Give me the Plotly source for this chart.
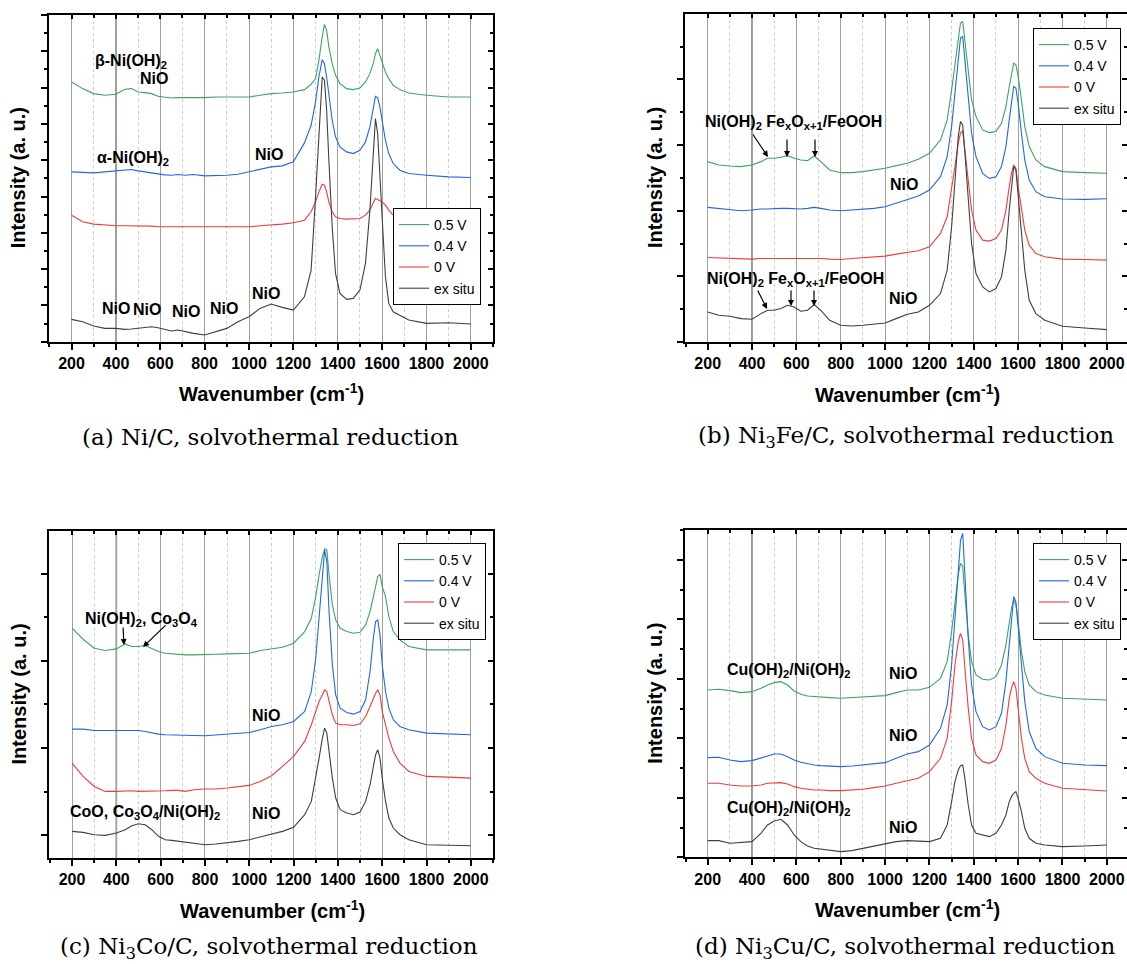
import plotly.graph_objects as go

# ---------------- data (intensity in arbitrary units) ----------------
WAVENUMBER = [200, 250, 300, 350, 400, 440, 470, 500, 530, 560, 590, 620, 650, 680, 710,
              750, 800, 850, 900, 950, 1000, 1050, 1100, 1150, 1200,
              1250, 1280, 1300, 1315, 1330, 1340, 1350, 1360, 1375, 1390,
              1410, 1440, 1470, 1500, 1525, 1545, 1560, 1570, 1580, 1590,
              1600, 1615, 1630, 1650, 1680, 1720, 1800, 1900, 2000]

SERIES_NAMES = ["0.5 V", "0.4 V", "0 V", "ex situ"]

# (a) Ni/C
A_05V = [780, 760, 745, 740, 743, 758, 760, 750, 748, 745, 737, 735, 732, 733, 733,
         732, 733, 735, 735, 733, 735, 740, 745, 747, 750,
         757, 773, 790, 845, 915, 953, 935, 885, 835, 800,
         775, 760, 757, 762, 780, 805, 835, 865, 880, 860,
         835, 810, 790, 770, 757, 747, 740, 735, 735]
A_04V = [510, 508, 507, 510, 512, 515, 517, 513, 510, 506, 503, 501, 500, 502, 500,
         502, 498, 498, 500, 503, 510, 517, 525, 528, 540,
         597, 650, 720, 795, 847, 835, 795, 735, 665, 615,
         585, 570, 565, 575, 600, 645, 705, 737, 733, 705,
         665, 605, 565, 535, 515, 505, 500, 495, 493]
A_0V = [380, 360, 353, 350, 348, 348, 348, 348, 347, 347, 345, 345, 345, 345, 345,
        345, 345, 347, 347, 345, 345, 348, 350, 353, 357,
        365, 390, 420, 450, 473, 470, 450, 420, 390, 375,
        370, 368, 368, 370, 380, 395, 417, 430, 427, 423,
        420, 410, 395, 380, 367, 360, 357, 355, 353]
A_EX = [67, 60, 47, 40, 40, 37, 38, 40, 43, 45, 42, 38, 32, 35, 30,
        25, 20, 30, 40, 60, 75, 100, 113, 103, 95,
        135, 215, 435, 615, 795, 785, 695, 545, 345, 205,
        145, 127, 130, 155, 235, 395, 575, 670, 625, 515,
        375, 195, 115, 90, 80, 65, 55, 57, 53]

# (b) Ni3Fe/C
B_05V = [540, 530, 527, 525, 530, 540, 550, 550, 553, 558, 550, 545, 543, 557, 540,
         515, 507, 507, 510, 515, 520, 528, 535, 547, 565,
         605, 665, 755, 835, 915, 955, 960, 905, 815, 725,
         675, 635, 627, 630, 655, 705, 765, 805, 835, 830,
         795, 725, 645, 585, 545, 525, 510, 507, 505]
B_04V = [403, 400, 397, 393, 395, 398, 398, 400, 400, 400, 398, 398, 400, 403, 400,
         395, 393, 395, 397, 400, 405, 415, 427, 437, 455,
         495, 555, 645, 745, 855, 910, 915, 845, 735, 625,
         555, 505, 490, 495, 525, 585, 665, 725, 765, 760,
         715, 625, 545, 485, 450, 435, 428, 427, 429]
B_0V = [253, 252, 250, 248, 248, 250, 250, 250, 250, 250, 250, 250, 250, 252, 250,
        248, 247, 250, 252, 255, 257, 263, 267, 273, 285,
        325, 375, 455, 525, 595, 625, 633, 575, 475, 395,
        335, 305, 302, 310, 335, 395, 465, 505, 530, 520,
        465, 395, 335, 290, 265, 255, 248, 247, 245]
B_EX = [90, 80, 77, 70, 68, 85, 95, 95, 100, 110, 105, 92, 95, 112, 95,
        65, 50, 48, 50, 53, 57, 70, 83, 90, 110,
        145, 215, 345, 495, 615, 660, 650, 565, 425, 295,
        205, 165, 150, 160, 195, 275, 395, 465, 525, 515,
        435, 315, 215, 125, 85, 65, 47, 42, 37]

# (c) Ni3Co/C
C_05V = [690, 657, 630, 623, 628, 643, 635, 635, 638, 628, 620, 615, 613, 612, 610,
         610, 610, 612, 613, 615, 615, 623, 628, 633, 645,
         680, 720, 785, 850, 905, 928, 925, 850, 760, 715,
         690, 680, 675, 678, 700, 740, 785, 820, 845, 852,
         815, 785, 725, 680, 655, 635, 625, 625, 625]
C_04V = [387, 387, 383, 382, 383, 383, 383, 383, 380, 375, 372, 370, 370, 368, 368,
         368, 367, 370, 372, 375, 377, 385, 395, 400, 410,
         440, 500, 600, 730, 860, 925, 890, 740, 580, 490,
         450, 437, 432, 440, 475, 560, 660, 710, 715, 670,
         580, 500, 450, 415, 395, 385, 375, 372, 370]
C_0V = [285, 245, 215, 200, 200, 202, 202, 200, 200, 202, 202, 202, 203, 203, 200,
        205, 207, 207, 210, 213, 218, 230, 247, 275, 305,
        350, 400, 440, 470, 490, 505, 500, 470, 430, 405,
        400, 400, 398, 403, 425, 455, 480, 495, 505, 490,
        440, 400, 360, 320, 285, 260, 245, 243, 240]
C_EX = [80, 77, 70, 68, 75, 85, 97, 103, 100, 85, 65, 55, 53, 50, 47,
        45, 40, 42, 45, 50, 55, 63, 73, 80, 92,
        130, 170, 240, 300, 360, 390, 375, 320, 240, 180,
        145, 135, 130, 138, 170, 220, 280, 310, 325, 300,
        240, 170, 120, 90, 70, 55, 40, 38, 37]

# (d) Ni3Cu/C
D_05V = [502, 504, 500, 494, 497, 507, 517, 524, 527, 517, 499, 489, 484, 482, 480,
         479, 477, 479, 480, 482, 485, 494, 502, 502, 510,
         537, 587, 677, 767, 847, 882, 872, 787, 667, 587,
         547, 534, 532, 542, 577, 637, 707, 747, 772, 757,
         707, 617, 557, 517, 497, 487, 477, 475, 472]
D_04V = [299, 300, 292, 287, 290, 297, 304, 310, 310, 302, 292, 285, 280, 277, 275,
         274, 272, 274, 277, 280, 284, 297, 310, 317, 337,
         387, 457, 577, 727, 877, 950, 972, 847, 657, 517,
         437, 392, 382, 392, 432, 527, 647, 727, 782, 767,
         697, 577, 467, 377, 327, 302, 282, 277, 275]
D_0V = [222, 222, 217, 214, 214, 217, 222, 224, 224, 220, 212, 207, 204, 202, 202,
        200, 200, 202, 204, 209, 214, 222, 230, 237, 257,
        297, 357, 467, 577, 647, 672, 652, 567, 447, 357,
        307, 287, 282, 292, 327, 397, 477, 507, 527, 507,
        447, 357, 297, 257, 237, 222, 207, 202, 199]
D_EX = [50, 50, 42, 44, 47, 72, 97, 109, 114, 97, 67, 47, 34, 27, 24,
        20, 17, 20, 27, 34, 42, 47, 50, 49, 47,
        57, 97, 167, 227, 262, 275, 277, 237, 157, 97,
        72, 67, 62, 72, 97, 127, 167, 182, 192, 197,
        177, 137, 87, 57, 42, 37, 32, 34, 37]

CAPTIONS = ["(a) Ni/C, solvothermal reduction",
            "(b) Ni<sub>3</sub>Fe/C, solvothermal reduction",
            "(c) Ni<sub>3</sub>Co/C, solvothermal reduction",
            "(d) Ni<sub>3</sub>Cu/C, solvothermal reduction"]
X_TITLE = "<b>Wavenumber (cm<sup>-1</sup>)</b>"
Y_TITLE = "<b>Intensity (a. u.)</b>"

# ---------------- styling / layout ----------------
W, H = 1127, 964
COLORS = ["#3aa65e", "#1f68e3", "#f23b3b", "#3f3f3f"]
SANS = "Liberation Sans, Arial, sans-serif"
SERIF = "DejaVu Serif, serif"


def px(x):
    return x / W


def py(y):
    return 1 - y / H


panels = [
    dict(data=[A_05V, A_04V, A_0V, A_EX], xd=(48.5, 493), yd=(14.7, 341.7), xr=[96, 2100],
         tick0=0, dtick=109, legend=(393, 208)),
    dict(data=[B_05V, B_04V, B_0V, B_EX], xd=(685, 1127), yd=(14.0, 342.0), xr=[97.6, 2091],
         tick0=0, dtick=196.5, legend=(1033, 28)),
    dict(data=[C_05V, C_04V, C_0V, C_EX], xd=(49, 493), yd=(531, 858), xr=[96, 2100],
         tick0=68, dtick=262, legend=(398, 543)),
    dict(data=[D_05V, D_04V, D_0V, D_EX], xd=(685, 1127), yd=(530, 857.3), xr=[97.6, 2091],
         tick0=0, dtick=178.5, legend=(1033, 543)),
]

fig = go.Figure()
layout = dict(width=W, height=H, margin=dict(l=0, r=0, t=0, b=0),
              paper_bgcolor="white", plot_bgcolor="white", showlegend=True)
shapes = []
annotations = []

for i, p in enumerate(panels):
    n = i + 1
    xs = "" if n == 1 else str(n)
    xname, yname = "x" + xs, "y" + xs
    legname = "legend" if n == 1 else "legend" + str(n)
    for name, vals, col in zip(SERIES_NAMES, p["data"], COLORS):
        fig.add_trace(go.Scatter(x=WAVENUMBER, y=vals, mode="lines", name=name,
                                 line=dict(color=col, width=1.1),
                                 xaxis=xname, yaxis=yname, legend=legname))
    # overlay axes for inside ticks on top / right
    ox, oy = "x" + str(n + 4), "y" + str(n + 4)
    fig.add_trace(go.Scatter(x=[None], y=[None], xaxis=ox, yaxis=yname, showlegend=False,
                             hoverinfo="skip"))
    fig.add_trace(go.Scatter(x=[None], y=[None], xaxis=xname, yaxis=oy, showlegend=False,
                             hoverinfo="skip"))

    xdom = [max(0, px(p["xd"][0])), min(1, px(p["xd"][1]))]
    ydom = [py(p["yd"][1]), py(p["yd"][0])]
    yr = [0, 982]
    layout["xaxis" + xs] = dict(
        domain=xdom, range=p["xr"], anchor=yname, tickmode="linear", tick0=0, dtick=200,
        ticks="outside", ticklen=6, tickwidth=2, tickcolor="black",
        showline=True, linewidth=2, linecolor="black", mirror=True,
        showgrid=True, gridcolor="#a0a0a0", gridwidth=1, zeroline=False,
        minor=dict(tickmode="linear", tick0=0, dtick=100, ticks="outside", ticklen=3,
                   tickwidth=1.5, tickcolor="black", showgrid=True, gridcolor="#cdcdcd",
                   griddash="dot", gridwidth=1),
        tickfont=dict(family=SANS, size=16, color="black", weight="bold"),
        automargin=False, fixedrange=True)
    layout["yaxis" + xs] = dict(
        domain=ydom, range=yr, anchor=xname, tickmode="linear", tick0=p["tick0"],
        dtick=p["dtick"], ticks="outside", ticklen=6, tickwidth=2, tickcolor="black",
        showticklabels=False, showline=True, linewidth=2, linecolor="black", mirror=True,
        showgrid=False, zeroline=False,
        minor=dict(tickmode="linear", tick0=p["tick0"], dtick=p["dtick"] / 2,
                   ticks="outside", ticklen=3, tickwidth=2, tickcolor="black"),
        automargin=False, fixedrange=True)
    layout["xaxis" + str(n + 4)] = dict(
        overlaying=xname, side="top", anchor=yname, range=p["xr"], tickmode="linear",
        tick0=0, dtick=200, ticks="inside", ticklen=4, tickwidth=2, tickcolor="black",
        minor=dict(tickmode="linear", tick0=0, dtick=100, ticks="inside", ticklen=3,
                   tickwidth=1.5, tickcolor="black"),
        showticklabels=False, showgrid=False, showline=False, zeroline=False,
        automargin=False, fixedrange=True)
    layout["yaxis" + str(n + 4)] = dict(
        overlaying=yname, side="right", anchor=xname, range=yr, tickmode="linear",
        tick0=p["tick0"], dtick=p["dtick"], ticks="inside", ticklen=5, tickwidth=2,
        tickcolor="black",
        minor=dict(tickmode="linear", tick0=p["tick0"], dtick=p["dtick"] / 2,
                   ticks="inside", ticklen=3, tickwidth=2, tickcolor="black"),
        showticklabels=False, showgrid=False, showline=False, zeroline=False,
        automargin=False, fixedrange=True)
    layout[legname] = dict(
        x=px(p["legend"][0]), y=py(p["legend"][1]), xanchor="left", yanchor="top",
        bgcolor="white", bordercolor="black", borderwidth=1,
        font=dict(family=SANS, size=14, color="black"), itemwidth=30, tracegroupgap=0)
    # highlighted reference line at 400 cm-1
    shapes.append(dict(type="line", xref=xname, yref=yname + " domain", x0=400, x1=400,
                       y0=0, y1=1, line=dict(color="#5c8f5c", width=1.6), layer="below"))

    base = p["yd"][1]
    xtitle_x = [271, 907, 272, 907][i]
    ytitle_x = [18, 655, 18, 655][i]
    cap_x = [270, 906, 269, 905][i]
    cap_y = [437, 437, 948, 948][i]
    annotations.append(dict(text=X_TITLE, x=px(xtitle_x), y=py(base + 51), xref="paper",
                            yref="paper", showarrow=False, xanchor="center", yanchor="middle",
                            font=dict(family=SANS, size=20, color="black")))
    annotations.append(dict(text=Y_TITLE, x=px(ytitle_x), y=py((p["yd"][0] + p["yd"][1]) / 2),
                            xref="paper", yref="paper", showarrow=False, textangle=-90,
                            xanchor="center", yanchor="middle",
                            font=dict(family=SANS, size=20, color="black")))
    annotations.append(dict(text=CAPTIONS[i], x=px(cap_x), y=py(cap_y), xref="paper",
                            yref="paper", showarrow=False, xanchor="center", yanchor="middle",
                            font=dict(family=SERIF, size=23, color="black")))

# peak labels: (text, x_px, y_px)
LABELS = [
    ("β-Ni(OH)<sub>2</sub>", 131, 62), ("NiO", 154, 78),
    ("α-Ni(OH)<sub>2</sub>", 133, 159), ("NiO", 269, 154),
    ("NiO", 116, 308), ("NiO", 147, 310), ("NiO", 186, 312), ("NiO", 224, 308), ("NiO", 266, 293),
    ("Ni(OH)<sub>2</sub> Fe<sub>x</sub>O<sub>x+1</sub>/FeOOH", 793, 122), ("NiO", 904, 184),
    ("Ni(OH)<sub>2</sub> Fe<sub>x</sub>O<sub>x+1</sub>/FeOOH", 795, 279), ("NiO", 903, 298),
    ("Ni(OH)<sub>2</sub>, Co<sub>3</sub>O<sub>4</sub>", 141, 619), ("NiO", 266, 715),
    ("CoO, Co<sub>3</sub>O<sub>4</sub>/Ni(OH)<sub>2</sub>", 145, 812), ("NiO", 266, 813),
    ("Cu(OH)<sub>2</sub>/Ni(OH)<sub>2</sub>", 789, 670), ("NiO", 903, 673),
    ("NiO", 903, 735),
    ("Cu(OH)<sub>2</sub>/Ni(OH)<sub>2</sub>", 789, 808), ("NiO", 903, 827),
]
for txt, x, y in LABELS:
    annotations.append(dict(text="<b>" + txt + "</b>", x=px(x), y=py(y), xref="paper",
                            yref="paper", showarrow=False, xanchor="center", yanchor="middle",
                            font=dict(family=SANS, size=16, color="black")))

# arrows: (tail_x, tail_y, head_x, head_y) in pixels
ARROWS = [
    (752, 133, 768, 157), (787, 138, 787, 157), (815, 138, 815, 157),
    (757, 289, 767, 309), (791, 289, 791, 306), (814, 289, 814, 306),
    (123, 626, 124, 645), (167, 624, 143, 647),
]
for tx, ty, hx, hy in ARROWS:
    annotations.append(dict(text="", x=px(hx), y=py(hy), xref="paper", yref="paper",
                            ax=tx - hx, ay=ty - hy, showarrow=True, arrowhead=2,
                            arrowsize=1, arrowwidth=1.2, arrowcolor="black", standoff=0))

layout["shapes"] = shapes
layout["annotations"] = annotations
fig.update_layout(**layout)
fig.write_html("out.html")
